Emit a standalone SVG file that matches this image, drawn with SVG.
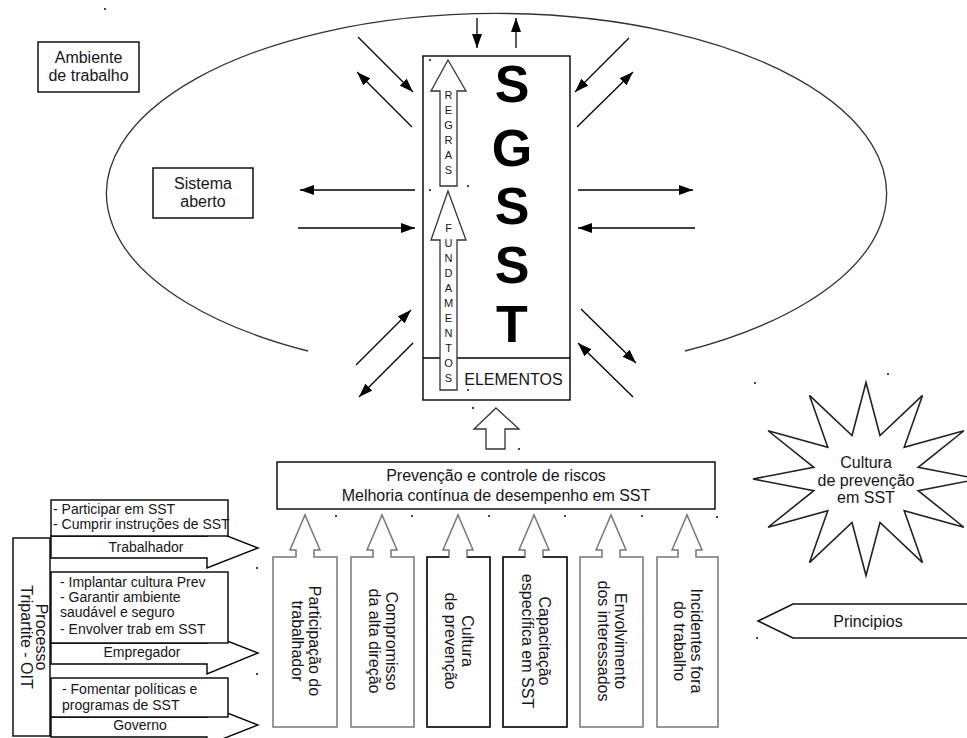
<svg xmlns="http://www.w3.org/2000/svg" width="967" height="738" viewBox="0 0 967 738">
<defs>
<marker id="ah" markerUnits="userSpaceOnUse" markerWidth="15" markerHeight="10" refX="14" refY="5" orient="auto">
<path d="M0,0 L14,5 L0,10 Z" fill="#000"/>
</marker>
<style>
.t{font-family:"Liberation Sans",Arial,sans-serif;font-size:16px;fill:#151520}
.s{font-size:14px}
.box{fill:#fff;stroke:#000;stroke-width:1.4}
.hol{fill:#fff;stroke:#333;stroke-width:1.3}
.gray{fill:#fff;stroke:#777;stroke-width:1.5}
.dark{fill:#fff;stroke:#111;stroke-width:1.5}
.edge{fill:none;stroke:#111;stroke-width:1.5}
.arr{fill:none;stroke:#000;stroke-width:1.3;marker-end:url(#ah)}
.dot{fill:#444}
</style>
</defs>
<rect width="967" height="738" fill="#fff"/>

<g id="ambiente-trabalho">
<path d="M308,351 A390,180 0 1,1 685,351" fill="none" stroke="#333" stroke-width="1.3"/>
<rect class="box" x="38" y="42" width="101" height="50"/>
<text class="t" text-anchor="middle" x="88.5" y="63">Ambiente</text>
<text class="t" text-anchor="middle" x="88.5" y="81">de trabalho</text>
</g>

<g id="sistema-aberto">
<rect class="box" x="153" y="168" width="100" height="50"/>
<text class="t" text-anchor="middle" x="203" y="189">Sistema</text>
<text class="t" text-anchor="middle" x="203" y="207">aberto</text>
</g>

<g id="sgsst">
<rect class="box" x="423" y="56" width="147" height="344" stroke-width="1.6"/>
<line x1="423" y1="358" x2="570" y2="358" stroke="#000" stroke-width="1.4"/>
<g font-family="Liberation Sans, Arial, sans-serif" font-weight="bold" font-size="52" text-anchor="middle" fill="#000">
<text x="512" y="102">S</text>
<text x="512" y="166">G</text>
<text x="512" y="224">S</text>
<text x="512" y="283">S</text>
<text x="512" y="342">T</text>
</g>
<text class="t" text-anchor="middle" x="513.5" y="385">ELEMENTOS</text>
</g>

<g id="regras">
<polygon class="hol" points="448,60 466,91 457,91 457,186 440,186 440,91 431,91"/>
<g class="t" text-anchor="middle" style="font-size:11px">
<text x="448.5" y="99">R</text><text x="448.5" y="114">E</text><text x="448.5" y="129">G</text><text x="448.5" y="144">R</text><text x="448.5" y="159">A</text><text x="448.5" y="174">S</text>
</g>
</g>

<g id="fundamentos">
<polygon class="hol" points="448,191 466,240 457,240 457,390 440,390 440,240 431,240"/>
<g class="t" text-anchor="middle" style="font-size:11px">
<text x="448.5" y="232">F</text><text x="448.5" y="247">U</text><text x="448.5" y="262">N</text><text x="448.5" y="277">D</text><text x="448.5" y="292">A</text><text x="448.5" y="307">M</text><text x="448.5" y="322">E</text><text x="448.5" y="337">N</text><text x="448.5" y="352">T</text><text x="448.5" y="367">O</text><text x="448.5" y="382">S</text>
</g>
</g>

<g id="connectors">
<line class="arr" x1="477" y1="18" x2="477" y2="48"/>
<line class="arr" x1="516" y1="48" x2="516" y2="18"/>
<line class="arr" x1="358" y1="37" x2="413" y2="92"/>
<line class="arr" x1="412" y1="127" x2="357" y2="72"/>
<line class="arr" x1="415" y1="190" x2="300" y2="190"/>
<line class="arr" x1="298" y1="228" x2="415" y2="228"/>
<line class="arr" x1="356" y1="365" x2="411" y2="310"/>
<line class="arr" x1="413" y1="343" x2="359" y2="397"/>
<line class="arr" x1="629" y1="38" x2="575" y2="92"/>
<line class="arr" x1="577" y1="127" x2="633" y2="72"/>
<line class="arr" x1="578" y1="190" x2="693" y2="190"/>
<line class="arr" x1="695" y1="228" x2="578" y2="228"/>
<line class="arr" x1="581" y1="309" x2="636" y2="363"/>
<line class="arr" x1="633" y1="397" x2="578" y2="343"/>
<polygon class="hol" points="496,408 519,429 505,429 505,449 486,449 486,429 474,429"/>
</g>

<g id="prevencao">
<rect class="box" x="277" y="462" width="438" height="47"/>
<text class="t" text-anchor="middle" x="496" y="481">Prevenção e controle de riscos</text>
<text class="t" text-anchor="middle" x="496" y="501">Melhoria contínua de desempenho em SST</text>
</g>

<g id="pilar-participacao">
<path class="gray" d="M273,727 L273,557 L296,557 L296,550 L290,550 L305,515 L320,550 L314,550 L314,557 L337,557 L337,727 Z"/>
<g transform="translate(305,641) rotate(90)"><text class="t" text-anchor="middle" x="0" y="-4">Participação do</text><text class="t" text-anchor="middle" x="0" y="13">trabalhador</text></g>
</g>
<g id="pilar-compromisso">
<path class="gray" d="M351,727 L351,557 L373,557 L373,550 L367,550 L382,515 L397,550 L391,550 L391,557 L414,557 L414,727 Z"/>
<g transform="translate(382,641) rotate(90)"><text class="t" text-anchor="middle" x="0" y="-4">Compromisso</text><text class="t" text-anchor="middle" x="0" y="13">da alta direção</text></g>
</g>
<g id="pilar-cultura">
<path class="gray" d="M427,727 L427,557 L449,557 L449,550 L443,550 L458,515 L473,550 L467,550 L467,557 L490,557 L490,727 Z"/>
<path class="edge" d="M449,557 L427,557 L427,727 L490,727 L490,557 L467,557"/>
<g transform="translate(458,641) rotate(90)"><text class="t" text-anchor="middle" x="0" y="-4">Cultura</text><text class="t" text-anchor="middle" x="0" y="13">de prevenção</text></g>
</g>
<g id="pilar-capacitacao">
<path class="gray" d="M503,727 L503,557 L525,557 L525,550 L519,550 L534,515 L549,550 L543,550 L543,557 L567,557 L567,727 Z"/>
<path class="edge" d="M525,557 L503,557 L503,727 L567,727 L567,557 L543,557"/>
<g transform="translate(535,641) rotate(90)"><text class="t" text-anchor="middle" x="0" y="-4">Capacitação</text><text class="t" text-anchor="middle" x="0" y="13">específica em SST</text></g>
</g>
<g id="pilar-envolvimento">
<path class="gray" d="M580,727 L580,557 L602,557 L602,550 L596,550 L611,515 L626,550 L620,550 L620,557 L643,557 L643,727 Z"/>
<g transform="translate(611,641) rotate(90)"><text class="t" text-anchor="middle" x="0" y="-4">Envolvimento</text><text class="t" text-anchor="middle" x="0" y="13">dos interessados</text></g>
</g>
<g id="pilar-incidentes">
<path class="gray" d="M657,727 L657,557 L678,557 L678,550 L672,550 L687,515 L702,550 L696,550 L696,557 L718,557 L718,727 Z"/>
<g transform="translate(687,641) rotate(90)"><text class="t" text-anchor="middle" x="0" y="-4">Incidentes fora</text><text class="t" text-anchor="middle" x="0" y="13">do trabalho</text></g>
</g>

<g id="cultura-estrela">
<polygon fill="#fff" stroke="#222" stroke-width="1.6" points="979,479 918.2,467.3 963.9,430.75 904.2,447.2 922.5,395.4 880,435.5 866,382.5 852,435.5 809.5,395.4 827.8,447.2 768.1,430.75 813.8,467.3 753,479 813.8,490.7 768.1,527.25 827.8,510.8 809.5,562.6 852,522.5 866,575.5 880,522.5 922.5,562.6 904.2,510.8 963.9,527.25 918.2,490.7"/>
<text class="t" text-anchor="middle" x="866" y="468">Cultura</text>
<text class="t" text-anchor="middle" x="866" y="486">de prevenção</text>
<text class="t" text-anchor="middle" x="866" y="503">em SST</text>
</g>

<g id="principios">
<polygon class="dark" points="758,621 793,604 972,604 972,638 793,638"/>
<text class="t" text-anchor="middle" x="868" y="627">Principios</text>
</g>

<g id="processo-tripartite">
<rect class="box" x="13" y="538" width="37" height="198"/>
<g transform="translate(31.5,637) rotate(90)"><text class="t" text-anchor="middle" x="0" y="-4">Processo</text><text class="t" text-anchor="middle" x="0" y="11">Tripartite - OIT</text></g>
</g>

<g id="trabalhador">
<polygon class="box" points="51,536 207,536 207,528 258,548 207,568 207,558 51,558"/>
<rect class="box" x="51" y="500" width="177" height="36"/>
<text class="t s" x="53" y="514">- Participar em SST</text>
<text class="t s" x="53" y="529">- Cumprir instruções de SST</text>
<text class="t s" text-anchor="middle" x="146" y="552">Trabalhador</text>
</g>

<g id="empregador">
<polygon class="box" points="51,643 207,643 207,633 258,653 207,674 207,664 51,664"/>
<rect class="box" x="51" y="572" width="177" height="71"/>
<text class="t s" x="60" y="587">- Implantar cultura Prev</text>
<text class="t s" x="60" y="602">- Garantir ambiente</text>
<text class="t s" x="60" y="617">saudável e seguro</text>
<text class="t s" x="60" y="634">- Envolver trab em SST</text>
<text class="t s" text-anchor="middle" x="142" y="657">Empregador</text>
</g>

<g id="governo">
<polygon class="box" points="51,717 207,717 207,705 258,725 207,745 207,737 51,737"/>
<rect class="box" x="51" y="678" width="177" height="39"/>
<text class="t s" x="62" y="694">- Fomentar políticas e</text>
<text class="t s" x="62" y="709.5">programas de SST</text>
<text class="t s" text-anchor="middle" x="140" y="730">Governo</text>
</g>

<g id="pontos">
<rect class="dot" x="104" y="8" width="2" height="2"/>
<rect class="dot" x="429" y="59" width="2" height="2"/>
<rect class="dot" x="429" y="189" width="2" height="2"/>
<rect class="dot" x="467" y="185" width="2" height="2"/>
<rect class="dot" x="467" y="389" width="2" height="2"/>
<rect class="dot" x="472" y="407" width="2" height="2"/>
<rect class="dot" x="518" y="448" width="2" height="2"/>
<rect class="dot" x="335" y="515" width="2" height="2"/>
<rect class="dot" x="411" y="515" width="2" height="2"/>
<rect class="dot" x="488" y="515" width="2" height="2"/>
<rect class="dot" x="564" y="515" width="2" height="2"/>
<rect class="dot" x="641" y="515" width="2" height="2"/>
<rect class="dot" x="716" y="516" width="2" height="2"/>
<rect class="dot" x="754" y="382" width="2" height="2"/>
<rect class="dot" x="887" y="373" width="2" height="2"/>
<rect class="dot" x="756" y="637" width="2" height="2"/>
<rect class="dot" x="256" y="567" width="2" height="2"/>
<rect class="dot" x="256" y="673" width="2" height="2"/>
</g>
</svg>
